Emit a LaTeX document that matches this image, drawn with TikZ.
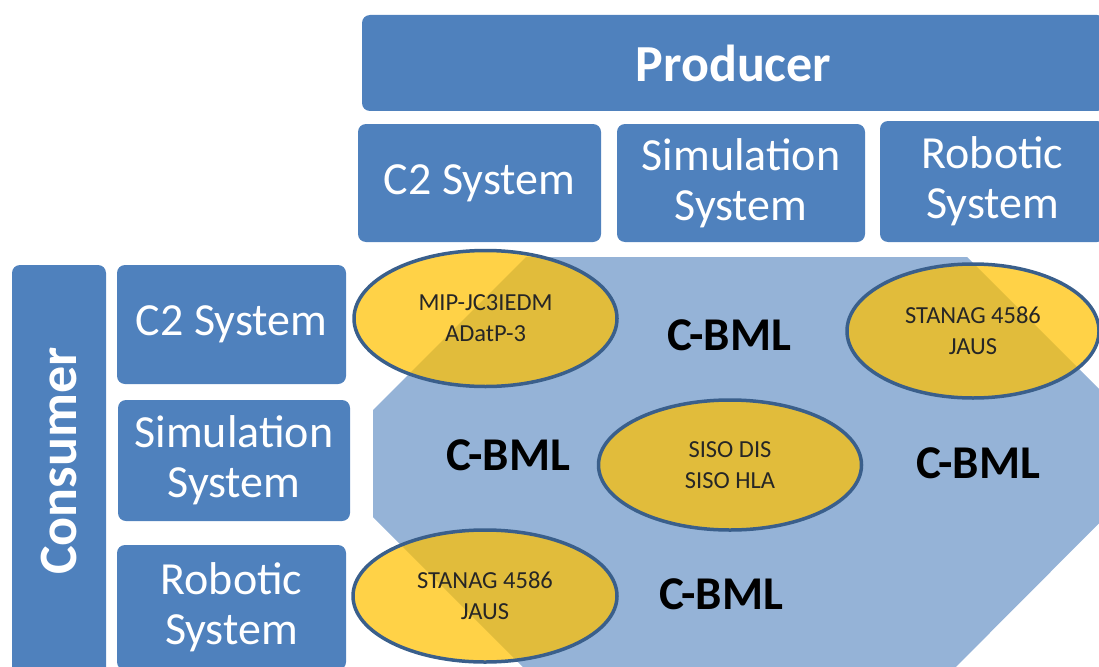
\documentclass[tikz,border=0pt]{standalone}
\usepackage{fontspec}
\setmainfont{Carlito}
\usetikzlibrary{shapes.geometric}
\definecolor{boxblue}{HTML}{4F81BD}
\definecolor{lightblue}{HTML}{95B3D7}
\definecolor{gold}{HTML}{FFC000}
\definecolor{rim}{HTML}{3A5F8B}
\tikzset{
  sysbox/.style={fill=boxblue, draw=none, rounded corners=8pt, text=white, align=center,
    inner sep=0pt, font=\fontsize{46}{50}\selectfont},
  headbox/.style={sysbox, font=\bfseries\fontsize{52}{56}\selectfont},
  stdoval/.style={ellipse, fill=gold, fill opacity=0.72, text opacity=1, draw=rim, draw opacity=1,
    line width=3.5pt, inner sep=0pt, align=center, text=black!85, font=\fontsize{24.5}{31}\selectfont},
  cbml/.style={font=\bfseries\fontsize{47}{50}\selectfont, text=black, inner sep=0pt}
}
\begin{document}
\begin{tikzpicture}[x=1pt,y=-1pt]
\useasboundingbox (0,0) rectangle (1099,666);
\clip (0,0) rectangle (1099,666);
% producer side
\node[headbox, minimum width=743pt, minimum height=96pt] (prod) at (733.5,63) {Producer};
\node[sysbox, minimum width=243pt, minimum height=118pt] (pc2) at (479.5,183) {C2 System};
\node[sysbox, minimum width=248pt, minimum height=118pt] (psim) at (741,183) {Simulation\\System};
\node[sysbox, minimum width=225pt, minimum height=121pt] (prob) at (992.5,181.5) {Robotic\\System};
% consumer side
\node[sysbox, minimum width=94pt, minimum height=420pt] (cons) at (59,475) {};
\node[text=white, font=\bfseries\fontsize{54}{58}\selectfont, rotate=90, inner sep=0pt] (conslabel) at (59,461) {Consumer};
\node[sysbox, minimum width=229pt, minimum height=119pt] (cc2) at (231.5,324.5) {C2 System};
\node[sysbox, minimum width=232pt, minimum height=121pt] (csim) at (234,460.5) {Simulation\\System};
\node[sysbox, minimum width=229pt, minimum height=125pt] (crob) at (231.5,607.5) {Robotic\\System};
% C-BML region
\fill[lightblue] (526,257) -- (967,257) -- (1166,456) -- (923,700) -- (556,700) -- (373,517) -- (373,410) -- cycle;
% standards
\node[stdoval, minimum width=263pt, minimum height=136pt] (e1) at (485.5,318.5) {MIP-JC3IEDM\\ADatP-3};
\node[stdoval, minimum width=252pt, minimum height=134pt] (e2) at (973,331) {STANAG 4586\\JAUS};
\node[stdoval, minimum width=263pt, minimum height=130pt] (e3) at (730,465) {SISO DIS\\SISO HLA};
\node[stdoval, minimum width=264pt, minimum height=132pt] (e4) at (485,596) {STANAG 4586\\JAUS};
% labels
\node[cbml] (l1) at (729,335) {C-BML};
\node[cbml] (l2) at (508,455) {C-BML};
\node[cbml] (l3) at (978,463) {C-BML};
\node[cbml] (l4) at (721,594) {C-BML};
\end{tikzpicture}
\end{document}
